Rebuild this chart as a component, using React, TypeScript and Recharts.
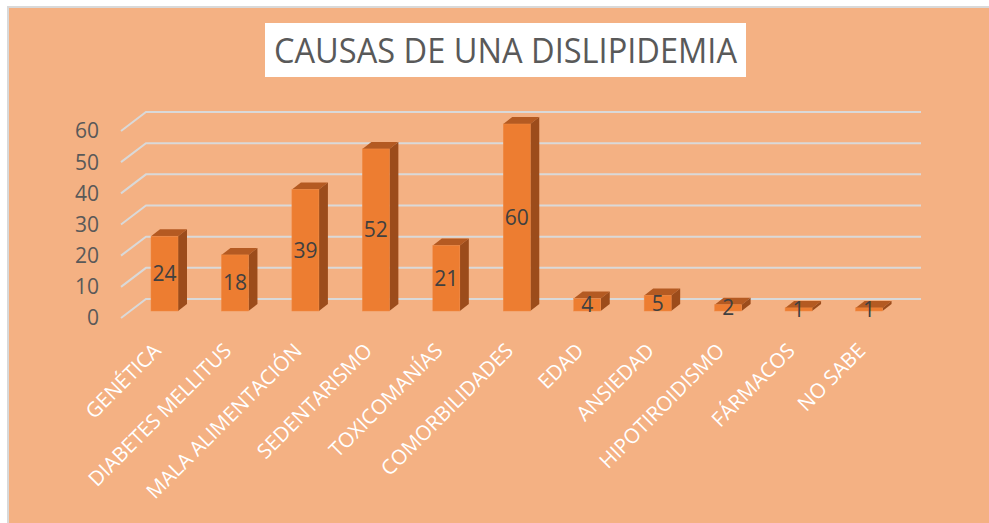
import { BarChart, Bar, XAxis, YAxis, CartesianGrid, LabelList } from 'recharts'

const categories = [
  'GENÉTICA',
  'DIABETES MELLITUS',
  'MALA ALIMENTACIÓN',
  'SEDENTARISMO',
  'TOXICOMANÍAS',
  'COMORBILIDADES',
  'EDAD',
  'ANSIEDAD',
  'HIPOTIROIDISMO',
  'FÁRMACOS',
  'NO SABE',
]
const values = [24, 18, 39, 52, 21, 60, 4, 5, 2, 1, 1]
const yTicks = [0, 10, 20, 30, 40, 50, 60]

const data = categories.map((name, i) => ({ name, value: values[i] }))

const FONT = '"Open Sans", Calibri, sans-serif'
const DEPTH_X = 9
const DEPTH_Y = 7

// 3D-looking column: front face, dark side, top
function Column(props: any) {
  const { x, y, width, height } = props
  const r = x + width
  const b = y + height
  return (
    <g>
      <polygon
        points={`${x},${y} ${x + DEPTH_X},${y - DEPTH_Y} ${r + DEPTH_X},${y - DEPTH_Y} ${r},${y}`}
        fill="#B45A22"
      />
      <polygon
        points={`${r},${y} ${r + DEPTH_X},${y - DEPTH_Y} ${r + DEPTH_X},${b - DEPTH_Y} ${r},${b}`}
        fill="#9C4C1B"
      />
      <rect x={x} y={y} width={width} height={height} fill="#ED7D31" stroke="#F08A45" strokeWidth={0.5} />
    </g>
  )
}

// floor + back wall gridline
function gridLine(props: any) {
  const { x1, x2, y1, index } = props
  const yb = y1 - 12
  return (
    <polyline
      key={`grid-${index}`}
      points={`${x1 - 8},${yb + 19} ${x1 + 17},${yb} ${x2 + 17},${yb}`}
      fill="none"
      stroke="#D9D9D9"
      strokeWidth={2}
    />
  )
}

function YTick(props: any) {
  const { x, y, payload } = props
  return (
    <text x={x} y={y + 7} dy="0.35em" textAnchor="end" fill="#595959" fontSize={21} fontFamily={FONT}>
      {payload.value}
    </text>
  )
}

function XTick(props: any) {
  const { x, payload } = props
  const ax = x - 2
  const ay = 352
  return (
    <text
      x={ax}
      y={ay}
      textAnchor="end"
      fill="#FFFFFF"
      fontSize={20.5}
      fontFamily={FONT}
      transform={`rotate(-45, ${ax}, ${ay})`}
    >
      {payload.value}
    </text>
  )
}

export default function App() {
  return (
    <div style={{ position: 'absolute', left: 0, top: 0, width: 989, height: 523, background: '#fff', overflow: 'hidden' }}>
      <div
        style={{
          position: 'absolute',
          left: 7,
          top: 6,
          width: 990,
          height: 530,
          background: '#F4B183',
          borderLeft: '2px solid #D9D9D9',
          borderTop: '2px solid #D9D9D9',
          boxSizing: 'border-box',
        }}
      />
      <div style={{ position: 'absolute', left: 265, top: 23, width: 481, height: 54, background: '#fff' }} />
      <svg style={{ position: 'absolute', left: 0, top: 0 }} width={989} height={100}>
        <text
          x={505.5}
          y={63}
          textAnchor="middle"
          fill="#595959"
          fontSize={34}
          fontFamily={'"Liberation Sans Narrow", "Open Sans", sans-serif'}
          textLength={463}
          lengthAdjust="spacingAndGlyphs"
        >
          CAUSAS DE UNA DISLIPIDEMIA
        </text>
      </svg>
      <div style={{ position: 'absolute', left: 0, top: 0 }}>
        <BarChart width={989} height={523} data={data} margin={{ top: 124, right: 85, left: 69, bottom: 62 }}>
          <CartesianGrid vertical={false} horizontal={gridLine} />
          <XAxis dataKey="name" axisLine={false} tickLine={false} interval={0} height={150} tick={XTick} />
          <YAxis
            domain={[0, 60]}
            ticks={yTicks}
            axisLine={false}
            tickLine={false}
            tickMargin={24}
            width={60}
            tick={YTick}
          />
          <Bar dataKey="value" barSize={27} shape={Column} isAnimationActive={false}>
            <LabelList dataKey="value" position="center" fill="#404040" fontSize={21} fontFamily={FONT} />
          </Bar>
        </BarChart>
      </div>
    </div>
  )
}
